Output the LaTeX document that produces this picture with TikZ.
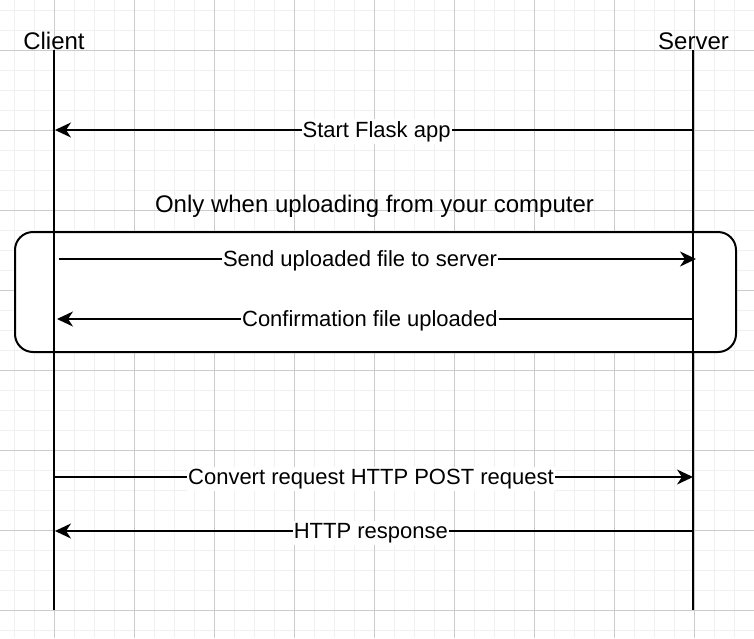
\documentclass[tikz,border=0pt]{standalone}
\usepackage{fontspec}
\setmainfont{Liberation Sans}
\usetikzlibrary{arrows.meta}
\begin{document}
\begin{tikzpicture}[x=1pt,y=-1pt,
  minorgrid/.style={draw=black!6,line width=1pt},
  majorgrid/.style={draw=black!20,line width=1pt},
  lifeline/.style={draw=black,line width=2pt},
  msg/.style={draw=black,line width=2pt,-{Stealth[length=16pt,width=15pt,inset=5pt]}},
  msglabel/.style={fill=white,inner xsep=1pt,inner ysep=2pt,anchor=base,yshift=-7pt,font=\fontsize{22}{26}\selectfont},
  actor/.style={inner sep=0pt,anchor=base,font=\fontsize{24}{28}\selectfont},
  groupbox/.style={draw=black,fill=white,line width=2pt,rounded corners=18pt}]
\useasboundingbox (0,0) rectangle (754,638);
\fill[white] (0,0) rectangle (754,638);
% grid
\foreach \x in {14,34,...,754} \draw[minorgrid] (\x,0) -- (\x,638);
\foreach \y in {10,30,...,638} \draw[minorgrid] (0,\y) -- (754,\y);
\foreach \x in {54,134,...,754} \draw[majorgrid] (\x,0) -- (\x,638);
\foreach \y in {50,130,...,638} \draw[majorgrid] (0,\y) -- (754,\y);
% group box
\node[groupbox,minimum width=721pt,minimum height=120pt,anchor=north west] (grp) at (14,231) {};
\node[inner sep=0pt,anchor=base,font=\fontsize{24}{28}\selectfont] (title) at (374.5,212) {Only when uploading from your computer};
% actors
\node[actor] (client) at (54,49) {Client};
\node[actor] (server) at (693.5,49) {Server};
\coordinate (ctop) at (54,50);
\coordinate (cbot) at (54,610);
\coordinate (stop) at (693,50);
\coordinate (sbot) at (693,610);
\draw[lifeline] (ctop) -- (cbot);
\draw[lifeline] (stop) -- (sbot);
% message endpoints
\coordinate (s1) at (693,130); \coordinate (c1) at (55,130);
\coordinate (c2) at (59,259);  \coordinate (s2) at (696,259);
\coordinate (s3) at (693,319); \coordinate (c3) at (57,319);
\coordinate (c4) at (54,477);  \coordinate (s4) at (693,477);
\coordinate (s5) at (693,531); \coordinate (c5) at (55,531);
\draw[msg] (s1) -- node[msglabel,pos=0.496] {Start Flask app} (c1);
\draw[msg] (c2) -- node[msglabel,pos=0.4725] {Send uploaded file to server} (s2);
\draw[msg] (s3) -- node[msglabel,pos=0.508] {Confirmation file uploaded} (c3);
\draw[msg] (c4) -- node[msglabel,pos=0.496] {Convert request HTTP POST request} (s4);
\draw[msg] (s5) -- node[msglabel,pos=0.505] {HTTP response} (c5);
\end{tikzpicture}
\end{document}
